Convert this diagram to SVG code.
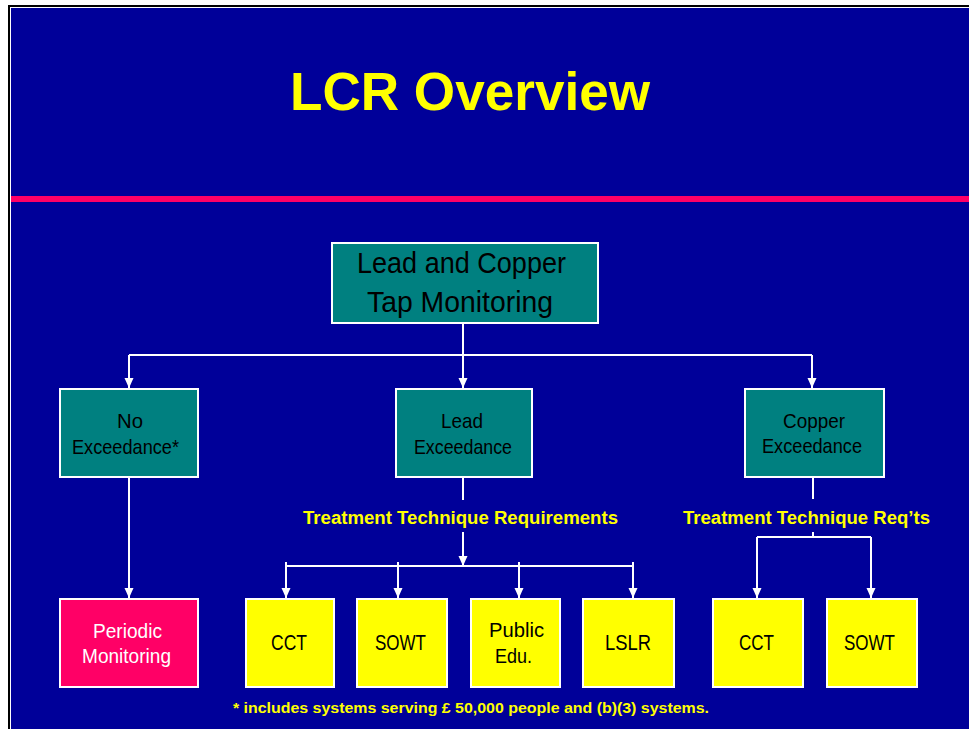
<svg xmlns="http://www.w3.org/2000/svg" width="969" height="729" viewBox="0 0 969 729">
  <style>
    .box { stroke: #ffffff; stroke-width: 2; }
    .teal { fill: #008080; }
    .pink { fill: #ff0066; }
    .yellow { fill: #ffff00; }
    .lbl { font-family: "Liberation Sans Narrow", "Liberation Sans", Arial, sans-serif; fill: #000000; }
    .lbl-w { font-family: "Liberation Sans Narrow", "Liberation Sans", Arial, sans-serif; fill: #ffffff; }
    .bold-y { font-family: "Liberation Sans", Arial, sans-serif; font-weight: bold; fill: #ffff00; }
    .wire { stroke: #ffffff; stroke-width: 2; fill: none; }
  </style>
  <defs>
    <marker id="arrow" markerUnits="userSpaceOnUse" markerWidth="10" markerHeight="10" refX="10" refY="4.5" orient="auto">
      <path d="M0,0 L10,4.5 L0,9 Z" fill="#ffffff"/>
    </marker>
  </defs>

  <!-- page and slide frame -->
  <rect x="0" y="0" width="969" height="729" fill="#ffffff"/>
  <rect x="8" y="5" width="961" height="2" fill="#000000"/>
  <rect x="8" y="5" width="2" height="724" fill="#000000"/>
  <rect x="11" y="8" width="958" height="721" fill="#000099"/>
  <rect x="11" y="196" width="958" height="6" fill="#ff0066"/>

  <text x="290" y="110" class="bold-y" font-size="54" textLength="360" lengthAdjust="spacingAndGlyphs">LCR Overview</text>

  <!-- connectors -->
  <g id="connectors">
    <path class="wire" d="M463,324 V355 M129,355 H812"/>
    <path class="wire" d="M129,355 V388" marker-end="url(#arrow)"/>
    <path class="wire" d="M463,355 V388" marker-end="url(#arrow)"/>
    <path class="wire" d="M812,355 V388" marker-end="url(#arrow)"/>
    <path class="wire" d="M129,478 V598" marker-end="url(#arrow)"/>

    <path class="wire" d="M463,478 V500"/>
    <path class="wire" d="M463,532 V566" marker-end="url(#arrow)"/>
    <path class="wire" d="M286,566 H633"/>
    <path class="wire" d="M286,562 V598" marker-end="url(#arrow)"/>
    <path class="wire" d="M398,562 V598" marker-end="url(#arrow)"/>
    <path class="wire" d="M519,562 V598" marker-end="url(#arrow)"/>
    <path class="wire" d="M633,562 V598" marker-end="url(#arrow)"/>

    <path class="wire" d="M813,478 V499 M813,532 V537 M757,537 H871"/>
    <path class="wire" d="M757,537 V598" marker-end="url(#arrow)"/>
    <path class="wire" d="M871,537 V598" marker-end="url(#arrow)"/>
  </g>

  <g id="tap-monitoring">
    <rect class="box teal" x="332" y="243" width="266" height="80"/>
    <text class="lbl" x="357" y="273" font-size="29" textLength="209" lengthAdjust="spacingAndGlyphs">Lead and Copper</text>
    <text class="lbl" x="367" y="312" font-size="29" textLength="186" lengthAdjust="spacingAndGlyphs">Tap Monitoring</text>
  </g>

  <g id="no-exceedance">
    <rect class="box teal" x="60" y="389" width="138" height="88"/>
    <text class="lbl" x="117" y="428" font-size="21" textLength="26" lengthAdjust="spacingAndGlyphs">No</text>
    <text class="lbl" x="72" y="454" font-size="21" textLength="107" lengthAdjust="spacingAndGlyphs">Exceedance*</text>
  </g>

  <g id="lead-exceedance">
    <rect class="box teal" x="396" y="389" width="136" height="88"/>
    <text class="lbl" x="441" y="428" font-size="21" textLength="42" lengthAdjust="spacingAndGlyphs">Lead</text>
    <text class="lbl" x="414" y="454" font-size="21" textLength="98" lengthAdjust="spacingAndGlyphs">Exceedance</text>
  </g>

  <g id="copper-exceedance">
    <rect class="box teal" x="745" y="389" width="139" height="88"/>
    <text class="lbl" x="783" y="428" font-size="21" textLength="62" lengthAdjust="spacingAndGlyphs">Copper</text>
    <text class="lbl" x="762" y="453" font-size="21" textLength="100" lengthAdjust="spacingAndGlyphs">Exceedance</text>
  </g>

  <g id="lead-tt-label">
    <text class="bold-y" x="303" y="524" font-size="18" textLength="315" lengthAdjust="spacingAndGlyphs">Treatment Technique Requirements</text>
  </g>
  <g id="copper-tt-label">
    <text class="bold-y" x="683" y="524" font-size="18" textLength="247" lengthAdjust="spacingAndGlyphs">Treatment Technique Req’ts</text>
  </g>

  <g id="periodic-monitoring">
    <rect class="box pink" x="60" y="599" width="138" height="88"/>
    <text class="lbl-w" x="93" y="638" font-size="21" textLength="69" lengthAdjust="spacingAndGlyphs">Periodic</text>
    <text class="lbl-w" x="82" y="663" font-size="21" textLength="89" lengthAdjust="spacingAndGlyphs">Monitoring</text>
  </g>

  <g id="lead-cct">
    <rect class="box yellow" x="246" y="599" width="88" height="88"/>
    <text class="lbl" x="271" y="650" font-size="22" textLength="36" lengthAdjust="spacingAndGlyphs">CCT</text>
  </g>
  <g id="lead-sowt">
    <rect class="box yellow" x="357" y="599" width="90" height="88"/>
    <text class="lbl" x="375" y="650" font-size="22" textLength="51" lengthAdjust="spacingAndGlyphs">SOWT</text>
  </g>
  <g id="public-edu">
    <rect class="box yellow" x="471" y="599" width="89" height="88"/>
    <text class="lbl" x="489" y="637" font-size="21" textLength="55" lengthAdjust="spacingAndGlyphs">Public</text>
    <text class="lbl" x="495" y="663" font-size="21" textLength="37" lengthAdjust="spacingAndGlyphs">Edu.</text>
  </g>
  <g id="lslr">
    <rect class="box yellow" x="583" y="599" width="91" height="88"/>
    <text class="lbl" x="605" y="650" font-size="22" textLength="46" lengthAdjust="spacingAndGlyphs">LSLR</text>
  </g>
  <g id="copper-cct">
    <rect class="box yellow" x="713" y="599" width="90" height="88"/>
    <text class="lbl" x="739" y="650" font-size="22" textLength="35" lengthAdjust="spacingAndGlyphs">CCT</text>
  </g>
  <g id="copper-sowt">
    <rect class="box yellow" x="827" y="599" width="90" height="88"/>
    <text class="lbl" x="844" y="650" font-size="22" textLength="51" lengthAdjust="spacingAndGlyphs">SOWT</text>
  </g>

  <text class="bold-y" x="233" y="713" font-size="14.5" textLength="476" lengthAdjust="spacingAndGlyphs">* includes systems serving £ 50,000 people and (b)(3) systems.</text>
</svg>
